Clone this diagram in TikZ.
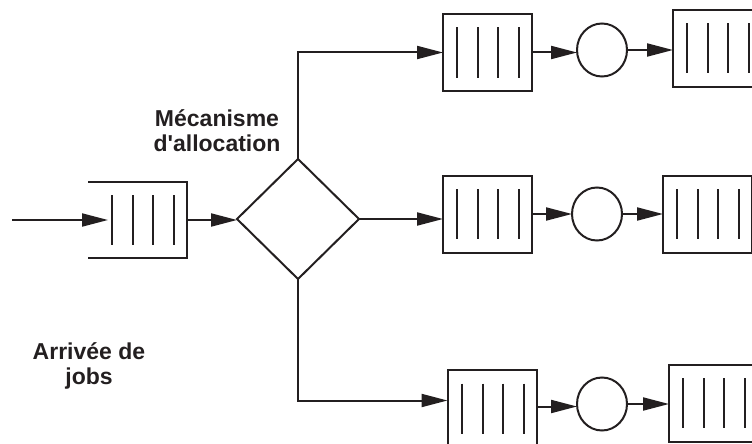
\documentclass[tikz,border=0pt]{standalone}
\usepackage{fontspec}
\setmainfont{Liberation Sans}
\newfontfamily\lblfont{Liberation Sans}
\usetikzlibrary{shapes.geometric,arrows.meta}
\definecolor{ink}{RGB}{35,31,32}
\begin{document}
\begin{tikzpicture}[x=1pt,y=-1pt,
  every node/.style={inner sep=0pt,outer sep=0pt},
  line/.style={draw=ink,line width=2pt},
  arr/.style={line,-{Triangle[length=26pt,width=13pt]}},
  bars/.style={path picture={
    \foreach \d in {13,34,54,75}
      \draw[ink,line width=2pt]
        ([xshift=-\d pt,yshift=25pt]path picture bounding box.east) --
        ([xshift=-\d pt,yshift=-25pt]path picture bounding box.east);}},
  queue/.style={rectangle,line,bars,minimum width=89pt,minimum height=77pt},
  server/.style={ellipse,line,minimum width=50pt,minimum height=53pt},
  lbl/.style={align=center,font=\lblfont\bfseries\fontsize{23}{25}\selectfont,text=ink}
]
\useasboundingbox (0,0) rectangle (752,444);
\clip (0,0) rectangle (752,444);

% input queue (open on the left)
\node[rectangle,bars,minimum width=99pt,minimum height=76pt] (q0) at (137.5,220) {};
\draw[line] (q0.north west) -- (q0.north east) -- (q0.south east) -- (q0.south west);
\coordinate (src) at (12,220);
\draw[arr] (src) -- ([xshift=20pt]q0.west);

% allocation mechanism
\node[diamond,line,aspect=1,minimum width=122pt,minimum height=120pt] (D) at (298,219) {};
\draw[arr] (q0.east) -- (q0.east -| D.west);

% queues and servers
\node[queue] (A1) at (487.5,52.5) {};
\node[server] (C1) at (602,50) {};
\node[queue] (B1) at (717.5,48.5) {};

\node[queue] (A2) at (487.5,214) {};
\node[server] (C2) at (597,214) {};
\node[queue] (B2) at (707.5,214) {};

\node[queue] (A3) at (492,408.5) {};
\node[server] (C3) at (602,404) {};
\node[queue] (B3) at (713.5,403) {};

% branches
\draw[arr] (D.north) |- (A1.west);
\draw[arr] (D.east) -- (D.east -| A2.west);
\draw[arr] (D.south) |- ([yshift=8pt]A3.west);

% rows
\draw[arr] (A1.east) -- (A1.east -| C1.west);
\draw[arr] (C1.east) -- (C1.east -| B1.west);
\draw[arr] (A2.east) -- (A2.east -| C2.west);
\draw[arr] (C2.east) -- (C2.east -| B2.west);
\draw[arr] ([yshift=2pt]A3.east) -- ([yshift=2pt]A3.east -| C3.west);
\draw[arr] (C3.east) -- (C3.east -| B3.west);

% labels
\node[lbl] (mech) at (217,131) {Mécanisme\\d'allocation};
\node[lbl] (arr) at (89,366) {Arrivée de\\jobs};
\end{tikzpicture}
\end{document}
